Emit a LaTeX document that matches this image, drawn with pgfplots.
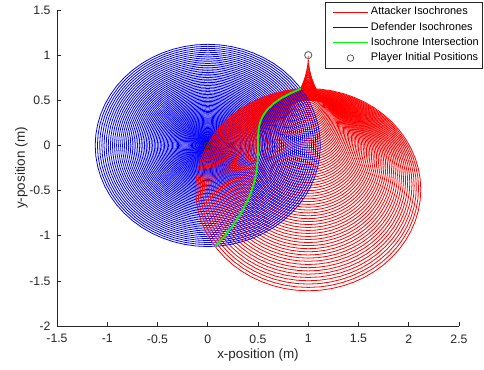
\documentclass[border=0pt]{standalone}
\usepackage{fontspec}
\setmainfont{Liberation Sans}
\usepackage{pgfplots}
\pgfplotsset{compat=1.18}
\definecolor{mgray}{rgb}{0.15,0.15,0.15}
\definecolor{mgreen}{rgb}{0,1,0}
\definecolor{mred}{rgb}{1,0,0}
\definecolor{mblue}{rgb}{0,0,1}
\pgfplotsset{
 legR/.style={legend image code/.code={\path[draw=none,fill=none] (0bp,-3bp) rectangle (42.8bp,3bp); \draw[draw=mred, line width=0.8bp] (5.8bp,0bp) -- (40.8bp,0bp);}},
 legB/.style={legend image code/.code={\path[draw=none,fill=none] (0bp,-3bp) rectangle (42.8bp,3bp); \draw[draw=mblue, line width=0.8bp] (5.8bp,0bp) -- (40.8bp,0bp);}},
 legG/.style={legend image code/.code={\path[draw=none,fill=none] (0bp,-3bp) rectangle (42.8bp,3bp); \draw[draw=mgreen, line width=0.8bp] (5.8bp,0bp) -- (40.8bp,0bp);}},
 legM/.style={legend image code/.code={\path[draw=none,fill=none] (0bp,-3bp) rectangle (42.8bp,3bp); \draw[draw=black!80, line width=0.6bp, fill=none] (23.3bp,0bp) circle[radius=3.3bp];}},
}
\begin{document}
\begin{tikzpicture}
\useasboundingbox (-57bp,-44bp) rectangle (427bp,326bp);
\begin{axis}[
 at={(0,0)}, anchor=south west,
 width=402bp, height=316bp, scale only axis,
 xmin=-1.5, xmax=2.5, ymin=-2, ymax=1.5,
 axis x line*=bottom, axis y line*=left,
 axis line style={mgray, line width=0.5bp},
 xtick={-1.5,-1,-0.5,0,0.5,1,1.5,2,2.5},
 ytick={-2,-1.5,-1,-0.5,0,0.5,1,1.5},
 tick align=inside, major tick length=4bp,
 tick style={mgray, line width=0.5bp},
 /pgf/number format/assume math mode=true,
 ticklabel style={font=\fontsize{12.3}{14}\selectfont, text=mgray},
 xticklabel style={yshift=-5bp},
 yticklabel style={xshift=-3bp},
 xlabel={x-position (m)}, ylabel={y-position (m)},
 label style={font=\fontsize{13.5}{16}\selectfont, text=mgray},
 xlabel style={at={(axis description cs:0.5,-0.1044)}, anchor=base},
 ylabel style={at={(axis description cs:-0.0796,0.5)}, anchor=base},
 legend style={at={(axis description cs:1.0572,1.0253)}, anchor=north east,
   draw=mgray, line width=0.5bp, fill=white, inner sep=2.2bp, outer sep=0pt,
   font=\fontsize{11}{13}\selectfont,
   nodes={inner xsep=1bp, inner ysep=2.45bp, text height=8bp, text depth=2.5bp},
   column sep=0bp, row sep=0bp},
 legend cell align=left,
]
\addlegendimage{legR}
\addlegendentry{Attacker Isochrones}
\addlegendimage{legB}
\addlegendentry{Defender Isochrones}
\addlegendimage{legG}
\addlegendentry{Isochrone Intersection}
\addlegendimage{legM}
\addlegendentry{Player Initial Positions}

\foreach \rr/\cc in {
0.0001/0.9851,0.0004/0.9702,0.0010/0.9553,0.0018/0.9404,0.0028/0.9255,0.0040/0.9106,0.0055/0.8957,0.0072/0.8808,0.0091/0.8659,0.0112/0.8510,
0.0136/0.8361,0.0161/0.8212,0.0189/0.8063,0.0220/0.7914,0.0252/0.7765,0.0287/0.7616,0.0324/0.7467,0.0363/0.7318,0.0404/0.7169,0.0448/0.7020,
0.0494/0.6871,0.0542/0.6722,0.0592/0.6573,0.0645/0.6424,0.0700/0.6275,0.0757/0.6126,0.0816/0.5977,0.0878/0.5828,0.0942/0.5679,0.1008/0.5530,
0.1076/0.5381,0.1147/0.5232,0.1220/0.5083,0.1295/0.4934,0.1372/0.4785,0.1452/0.4636,0.1533/0.4487,0.1617/0.4338,0.1704/0.4189,0.1792/0.4040,
0.1883/0.3891,0.1976/0.3742,0.2071/0.3593,0.2168/0.3444,0.2268/0.3295,0.2370/0.3146,0.2474/0.2997,0.2580/0.2848,0.2689/0.2699,0.2800/0.2550,
0.2913/0.2401,0.3028/0.2252,0.3146/0.2103,0.3266/0.1954,0.3388/0.1805,0.3512/0.1656,0.3639/0.1507,0.3768/0.1358,0.3899/0.1209,0.4032/0.1060,
0.4168/0.0911,0.4305/0.0762,0.4445/0.0613,0.4588/0.0464,0.4732/0.0315,0.4879/0.0166,0.5028/0.0017,0.5179/-0.0132,0.5332/-0.0281,0.5488/-0.0430,
0.5646/-0.0579,0.5806/-0.0728,0.5968/-0.0877,0.6133/-0.1026,0.6300/-0.1175,0.6469/-0.1324,0.6640/-0.1473,0.6814/-0.1622,0.6990/-0.1771,0.7168/-0.1920,
0.7348/-0.2069,0.7531/-0.2218,0.7716/-0.2367,0.7903/-0.2516,0.8092/-0.2665,0.8284/-0.2814,0.8477/-0.2963,0.8673/-0.3112,0.8872/-0.3261,0.9072/-0.3410,
0.9275/-0.3559,0.9480/-0.3708,0.9687/-0.3857,0.9896/-0.4006,1.0108/-0.4155,1.0322/-0.4304,1.0538/-0.4453,1.0756/-0.4602,1.0977/-0.4751,1.1200/-0.4900}{
\edef\tmp{\noexpand\addplot[mblue, line width=0.8bp, forget plot, no markers, samples=61, domain=0:360] ({\rr*cos(x)},{\rr*sin(x)});
\noexpand\addplot[mred, line width=0.8bp, forget plot, no markers, samples=61, domain=0:360] ({1+\rr*cos(x)},{\cc+\rr*sin(x)});}\tmp
}

\addplot[mgreen, line width=1.8bp, forget plot] coordinates {
(0.928,0.628) (0.8275,0.580) (0.738,0.528) (0.660,0.468) (0.595,0.400) (0.563,0.352) (0.544,0.317) (0.521,0.256) (0.510,0.203) (0.502,0.128) (0.5,0.054) (0.5,0.0) (0.5,-0.052) (0.498,-0.141) (0.490,-0.246) (0.479,-0.329) (0.456,-0.435) (0.437,-0.500) (0.405,-0.592) (0.340,-0.735) (0.262,-0.869) (0.1725,-0.996) (0.0724,-1.118)};

\addplot[only marks, mark=o, mark size=3.6bp, mark options={draw=black!60, line width=0.9bp}, forget plot] coordinates {(1,1)};
\addplot[only marks, mark=o, mark size=3.4bp, mark options={draw=black!80, line width=0.8bp}, forget plot] coordinates {(0,0)};
\end{axis}
\end{tikzpicture}
\end{document}
